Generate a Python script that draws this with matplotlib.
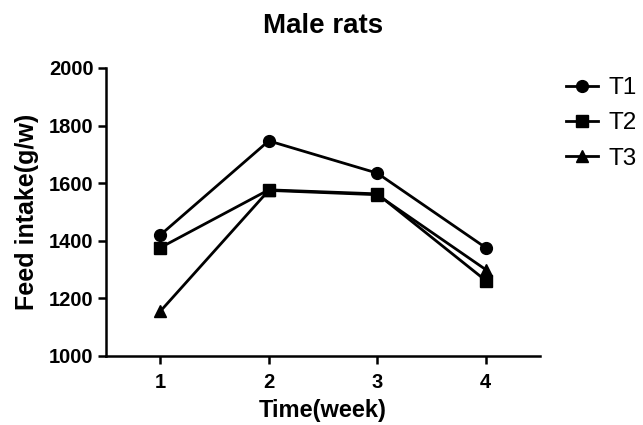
import matplotlib
matplotlib.use("Agg")
import matplotlib.pyplot as plt

weeks = [1, 2, 3, 4]
t1 = [1420, 1747, 1635, 1376]
t2 = [1376, 1577, 1563, 1262]
t3 = [1155, 1575, 1560, 1300]
series_names = ["T1", "T2", "T3"]
x_ticks = [1, 2, 3, 4]
y_ticks = [1000, 1200, 1400, 1600, 1800, 2000]

plt.rcParams['font.family'] = ['Liberation Sans', 'DejaVu Sans']

fig = plt.figure(figsize=(6.43, 4.25), dpi=100)
ax = fig.add_axes([106/643, 1-356/425, 434/643, (356-68)/425])

for y, m, name in zip([t1, t2, t3], ['o', 's', '^'], series_names):
    ax.plot(weeks, y, color='black', lw=2.0, marker=m, markersize=8.5, label=name,
            clip_on=False)

ax.set_xlim(0.5, 4.5)
ax.set_ylim(1000, 2000)
ax.set_xticks(x_ticks)
ax.set_yticks(y_ticks)
for s in ['top', 'right']:
    ax.spines[s].set_visible(False)
for s in ['left', 'bottom']:
    ax.spines[s].set_linewidth(1.8)
ax.tick_params(axis='y', width=1.8, length=6, labelsize=14.5, pad=3)
ax.tick_params(axis='x', width=1.8, length=6, labelsize=14.5, pad=6)
for lab in ax.get_xticklabels() + ax.get_yticklabels():
    lab.set_fontweight('bold')

ax.set_xlabel("Time(week)", fontsize=17, fontweight='bold', labelpad=5)
ax.set_ylabel("Feed intake(g/w)", fontsize=18, fontweight='bold', labelpad=7)
fig.suptitle("Male rats", fontsize=20, fontweight='bold', x=323/643, y=1-13/425, va='top')

fig.legend(loc='upper left', bbox_to_anchor=(566/643, 1-77/425), frameon=False,
           fontsize=17.5, handlelength=1.3, borderpad=0, borderaxespad=0,
           labelspacing=0.55, handletextpad=0.45)

fig.savefig("out.png", dpi=100)
